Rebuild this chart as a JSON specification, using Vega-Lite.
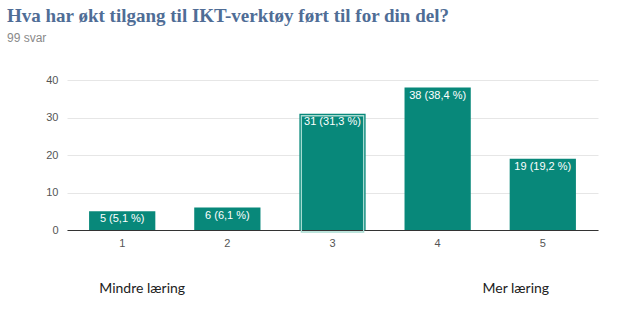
{
  "$schema": "https://vega.github.io/schema/vega-lite/v6.json",
  "autosize": "none",
  "width": 531,
  "height": 150,
  "padding": {"left": 67, "top": 80, "right": 26, "bottom": 82},
  "background": "white",
  "title": {
    "text": "Hva har økt tilgang til IKT-verktøy ført til for din del?",
    "subtitle": "99 svar",
    "anchor": "start",
    "frame": "group",
    "dx": -60,
    "offset": 30,
    "font": "Liberation Serif",
    "fontSize": 19,
    "fontWeight": "bold",
    "color": "#4f6d96",
    "subtitleFont": "Liberation Sans",
    "subtitleFontSize": 12,
    "subtitleColor": "#8a8a8a",
    "subtitlePadding": 7
  },
  "datasets": {
    "answers": [
      {"option": "1", "count": 5, "label": "5 (5,1 %)"},
      {"option": "2", "count": 6, "label": "6 (6,1 %)"},
      {"option": "3", "count": 31, "label": "31 (31,3 %)"},
      {"option": "4", "count": 38, "label": "38 (38,4 %)"},
      {"option": "5", "count": 19, "label": "19 (19,2 %)"}
    ],
    "ends": [
      {"option": "1", "text": "Mindre læring"},
      {"option": "5", "text": "Mer læring"}
    ]
  },
  "layer": [
    {
      "data": {"name": "answers"},
      "mark": {"type": "bar", "color": "#08887a"},
      "encoding": {
        "x": {
          "field": "option",
          "type": "ordinal",
          "scale": {"paddingInner": 0.37, "paddingOuter": 0.21},
          "axis": {
            "title": null,
            "labelAngle": 0,
            "ticks": false,
            "domainColor": "#333333",
            "labelColor": "#555555",
            "labelFont": "Liberation Sans",
            "labelFontSize": 11,
            "labelPadding": 7,
            "grid": false
          }
        },
        "y": {
          "field": "count",
          "type": "quantitative",
          "scale": {"domain": [0, 40], "nice": false},
          "axis": {
            "values": [0, 10, 20, 30, 40],
            "title": null,
            "domain": false,
            "ticks": false,
            "labelPadding": 9,
            "labelColor": "#555555",
            "labelFont": "Liberation Sans",
            "labelFontSize": 11,
            "gridColor": "#e6e6e6"
          }
        }
      }
    },
    {
      "data": {"name": "answers"},
      "transform": [{"filter": "datum.option == '3'"}],
      "mark": {
        "type": "bar",
        "filled": false,
        "stroke": "#a6dbd1",
        "strokeWidth": 1.3,
        "width": {"band": 0.94},
        "yOffset": 2,
        "y2Offset": -2
      },
      "encoding": {
        "x": {"field": "option", "type": "ordinal"},
        "y": {
          "field": "count",
          "type": "quantitative",
          "axis": {
            "values": [0, 10, 20, 30, 40],
            "title": null,
            "domain": false,
            "ticks": false,
            "labelPadding": 9,
            "labelColor": "#555555",
            "labelFont": "Liberation Sans",
            "labelFontSize": 11,
            "gridColor": "#e6e6e6"
          }
        }
      }
    },
    {
      "data": {"name": "answers"},
      "mark": {
        "type": "text",
        "color": "white",
        "baseline": "top",
        "dy": 2,
        "font": "Liberation Sans",
        "fontSize": 11
      },
      "encoding": {
        "x": {"field": "option", "type": "ordinal"},
        "y": {
          "field": "count",
          "type": "quantitative",
          "axis": {
            "values": [0, 10, 20, 30, 40],
            "title": null,
            "domain": false,
            "ticks": false,
            "labelPadding": 9,
            "labelColor": "#555555",
            "labelFont": "Liberation Sans",
            "labelFontSize": 11,
            "gridColor": "#e6e6e6"
          }
        },
        "text": {"field": "label"}
      }
    },
    {
      "data": {"name": "ends"},
      "transform": [{"filter": "datum.option == '1'"}],
      "mark": {"type": "text", "font": "Lato", "fontSize": 14, "color": "#222222", "dx": 20},
      "encoding": {
        "x": {"field": "option", "type": "ordinal"},
        "y": {
          "datum": -15.7,
          "type": "quantitative",
          "axis": {
            "values": [0, 10, 20, 30, 40],
            "title": null,
            "domain": false,
            "ticks": false,
            "labelPadding": 9,
            "labelColor": "#555555",
            "labelFont": "Liberation Sans",
            "labelFontSize": 11,
            "gridColor": "#e6e6e6"
          }
        },
        "text": {"field": "text"}
      }
    },
    {
      "data": {"name": "ends"},
      "transform": [{"filter": "datum.option == '5'"}],
      "mark": {"type": "text", "font": "Lato", "fontSize": 14, "color": "#222222", "dx": -27},
      "encoding": {
        "x": {"field": "option", "type": "ordinal"},
        "y": {
          "datum": -15.7,
          "type": "quantitative",
          "axis": {
            "values": [0, 10, 20, 30, 40],
            "title": null,
            "domain": false,
            "ticks": false,
            "labelPadding": 9,
            "labelColor": "#555555",
            "labelFont": "Liberation Sans",
            "labelFontSize": 11,
            "gridColor": "#e6e6e6"
          }
        },
        "text": {"field": "text"}
      }
    }
  ],
  "config": {"view": {"stroke": null}}
}
